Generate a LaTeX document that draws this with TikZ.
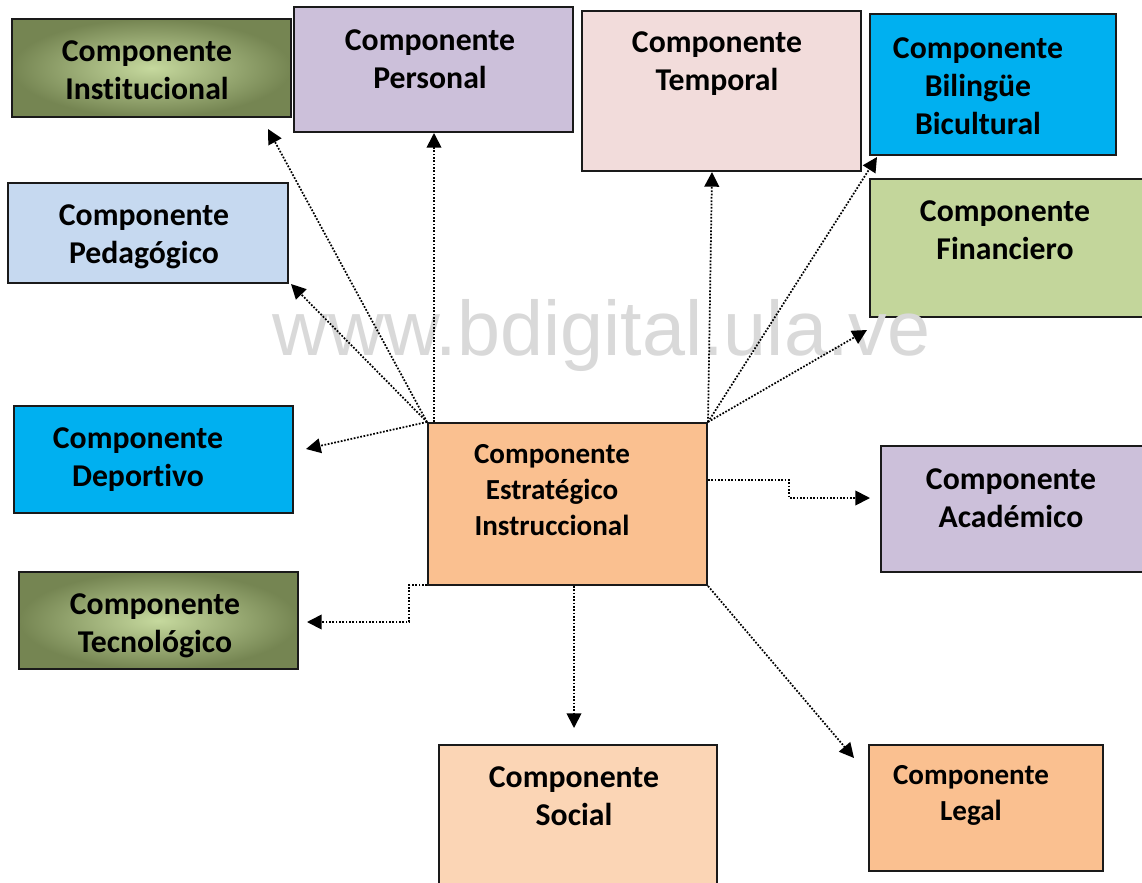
\documentclass[tikz,border=0pt]{standalone}
\usepackage{fontspec}
\setmainfont{Carlito}[Ligatures={NoCommon,NoRequired,NoContextual},RawFeature={-calt}]
\newfontfamily\wmfont{Liberation Sans}
\usetikzlibrary{arrows.meta}
\definecolor{bordc}{RGB}{26,26,26}
\definecolor{lilac}{RGB}{204,192,218}
\definecolor{rosec}{RGB}{242,220,219}
\definecolor{cyanc}{RGB}{0,176,240}
\definecolor{paleblue}{RGB}{198,217,240}
\definecolor{palegreen}{RGB}{195,214,155}
\definecolor{orangec}{RGB}{250,192,144}
\definecolor{peachc}{RGB}{251,213,181}
\definecolor{olivedark}{RGB}{117,133,82}
\definecolor{olivelight}{RGB}{198,217,158}
\definecolor{wmgray}{RGB}{217,217,217}
\tikzset{
  box/.style={draw=bordc, line width=1.5pt, inner sep=0pt, rectangle},
  sz/.style 2 args={minimum width=#1*0.75pt, minimum height=#2*0.75pt},
  olivebox/.style={box, shading=radial, inner color=olivelight, outer color=olivedark},
  lbl/.style={align=center, inner sep=0pt, font=\fontsize{23.8}{28.5}\selectfont\bfseries},
  lblsmall/.style={align=center, inner sep=0pt, font=\fontsize{21.8}{27}\selectfont\bfseries},
  arr/.style={line width=1.3pt, dash pattern=on 1.3pt off 1.2pt, -{Triangle[length=11pt,width=11pt]}}
}
\begin{document}
\begin{tikzpicture}[x=0.75pt,y=-0.75pt]
\useasboundingbox (0,0) rectangle (1142,882);
\fill[white] (0,0) rectangle (1142,882);
% boxes
\node[olivebox, sz={279}{98}] (inst) at (151.5,68) {};
\node[box, fill=lilac, sz={279}{125}] (pers) at (433.5,69.5) {};
\node[box, fill=rosec, sz={279}{160}] (temp) at (721.5,91) {};
\node[box, fill=cyanc, sz={246}{141}] (bil) at (993,84.5) {};
\node[box, fill=paleblue, sz={280}{100}] (ped) at (148,233) {};
\node[box, fill=palegreen, sz={280}{138}] (fin) at (1010,248) {};
\node[box, fill=cyanc, sz={279}{107}] (dep) at (153.5,459.5) {};
\node[box, fill=orangec, sz={279}{162}] (est) at (567.5,504) {};
\node[box, fill=lilac, sz={279}{126}] (acad) at (1020.5,509) {};
\node[olivebox, sz={279}{97}] (tec) at (158.5,620.5) {};
\node[box, fill=peachc, sz={278}{155}] (soc) at (578,822.5) {};
\node[box, fill=orangec, sz={234}{126}] (leg) at (986,808) {};
% watermark
\node[anchor=base, inner sep=0pt, text=wmgray, font=\wmfont\fontsize{58}{60}\selectfont] (wm) at (601.5,355) {www.bdigital.ula.ve};
% labels
\node[lbl] (inst-t) at (147,70) {Componente\\Institucional};
\node[lbl] (pers-t) at (430,59) {Componente\\Personal};
\node[lbl] (temp-t) at (717,64) {Componente\\Temporal};
\node[lbl] (bil-t) at (978,86) {Componente\\Bilingüe\\Bicultural};
\node[lbl] (ped-t) at (144,237) {Componente\\Pedagógico};
\node[lbl] (fin-t) at (1005,230) {Componente\\Financiero};
\node[lbl] (dep-t) at (138,460) {Componente\\Deportivo};
\node[lblsmall] (est-t) at (552,490) {Componente\\Estratégico\\Instruccional};
\node[lbl] (acad-t) at (1011,498) {Componente\\Académico};
\node[lbl] (tec-t) at (155,626) {Componente\\Tecnológico};
\node[lbl] (soc-t) at (574,796) {Componente\\Social};
\node[lblsmall] (leg-t) at (971,795) {Componente\\Legal};
% arrow tips
\coordinate (tInst) at (268,129);
\coordinate (tPed) at (291,284);
\coordinate (tPers) at (434,133);
\coordinate (tDep) at (306,449);
\coordinate (tTemp) at (712,172);
\coordinate (tBil) at (877,157);
\coordinate (tFin) at (867,330);
\coordinate (tAcad) at (870,498);
\coordinate (tTec) at (307,622);
\coordinate (tSoc) at (574,728);
\coordinate (tLeg) at (854,758);
% connectors
\draw[arr] (est.north west) -- (tInst);
\draw[arr] (est.north west) -- (tPed);
\draw[arr] (est.north west -| tPers) -- (tPers);
\draw[arr] (est.north west) -- (tDep);
\draw[arr] (est.north east) -- (tTemp);
\draw[arr] (est.north east) -- (tBil);
\draw[arr] (est.north east) -- (tFin);
\draw[arr] ([yshift=18pt]est.east) -- ++(81,0) |- (tAcad);
\draw[arr] ([yshift=0.75pt]est.south west) -- ++(-18,0) |- (tTec);
\draw[arr] (est.south -| tSoc) -- (tSoc);
\draw[arr] (est.south east) -- (tLeg);
\end{tikzpicture}
\end{document}
